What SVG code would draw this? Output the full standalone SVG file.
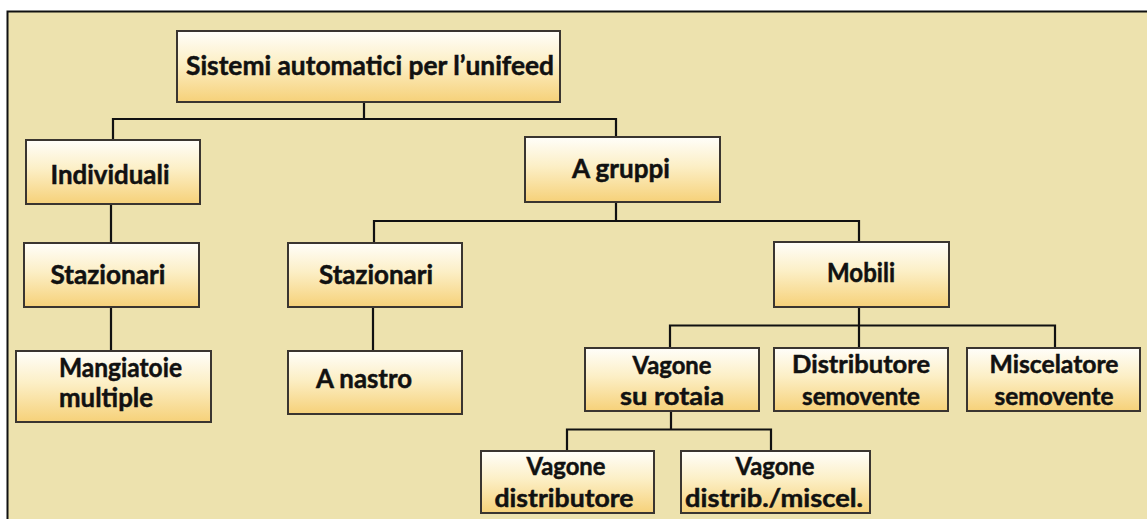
<svg xmlns="http://www.w3.org/2000/svg" width="1147" height="519" viewBox="0 0 1147 519">
<defs>
<linearGradient id="boxfill" x1="0" y1="0" x2="0" y2="1">
<stop offset="0" stop-color="#fffefa"/>
<stop offset="0.45" stop-color="#fcefc6"/>
<stop offset="1" stop-color="#f6d179"/>
</linearGradient>
</defs>
<style>
.box{fill:url(#boxfill);stroke:#3a3530;stroke-width:2}
.t{font-family:Lato,"Liberation Sans",sans-serif;font-weight:700;font-size:27px;fill:#111;stroke:#111;stroke-width:0.5;text-anchor:middle}
.s{font-size:25px}
.l{text-anchor:start}
.conn{fill:none;stroke:#111;stroke-width:2.2}
</style>
<rect x="0" y="0" width="1147" height="519" fill="#ffffff"/>
<rect x="7.5" y="11.5" width="1150" height="520" fill="#ede2ae" stroke="#111" stroke-width="2"/>
<g id="connectors" class="conn">
<path d="M364,102 V119 M113,140 V119 H616 V137"/>
<path d="M111,204 V243"/>
<path d="M111,307 V351"/>
<path d="M616,202 V221 M374,243 V221 H859 V242"/>
<path d="M373,307 V351"/>
<path d="M859,307 V348 M670,348 V325.5 H1055 V348"/>
<path d="M671,411 V429.5 M567,451 V429.5 H771 V451"/>
</g>
<g id="n-root">
<rect class="box" x="177" y="31" width="383" height="71"/>
<text class="t" x="370" y="75" textLength="368" lengthAdjust="spacingAndGlyphs">Sistemi automatici per l’unifeed</text>
</g>
<g id="n-individuali">
<rect class="box" x="26" y="140" width="174" height="64"/>
<text class="t" x="110" y="184" textLength="119" lengthAdjust="spacingAndGlyphs">Individuali</text>
</g>
<g id="n-agruppi">
<rect class="box" x="525" y="137" width="195" height="65"/>
<text class="t" x="621" y="178" textLength="98" lengthAdjust="spacingAndGlyphs">A gruppi</text>
</g>
<g id="n-stazionari-1">
<rect class="box" x="24" y="243" width="175" height="64"/>
<text class="t" x="108" y="284" textLength="115" lengthAdjust="spacingAndGlyphs">Stazionari</text>
</g>
<g id="n-mangiatoie">
<rect class="box" x="16" y="351" width="195" height="71"/>
<text class="t l" x="59" y="377" textLength="123" lengthAdjust="spacingAndGlyphs">Mangiatoie</text>
<text class="t l" x="59" y="407" textLength="94" lengthAdjust="spacingAndGlyphs">multiple</text>
</g>
<g id="n-stazionari-2">
<rect class="box" x="288" y="243" width="174" height="64"/>
<text class="t" x="376" y="284" textLength="114" lengthAdjust="spacingAndGlyphs">Stazionari</text>
</g>
<g id="n-anastro">
<rect class="box" x="288" y="351" width="174" height="63"/>
<text class="t l" x="316" y="388" textLength="96" lengthAdjust="spacingAndGlyphs">A nastro</text>
</g>
<g id="n-mobili">
<rect class="box" x="774" y="242" width="175" height="65"/>
<text class="t" x="861" y="282" textLength="68" lengthAdjust="spacingAndGlyphs">Mobili</text>
</g>
<g id="n-vagone-rotaia">
<rect class="box" x="585" y="348" width="174" height="63"/>
<text class="t s" x="672" y="374" textLength="79" lengthAdjust="spacingAndGlyphs">Vagone</text>
<text class="t s" x="672" y="405" textLength="104" lengthAdjust="spacingAndGlyphs">su rotaia</text>
</g>
<g id="n-distributore">
<rect class="box" x="774" y="348" width="174" height="63"/>
<text class="t s" x="861" y="373" textLength="138" lengthAdjust="spacingAndGlyphs">Distributore</text>
<text class="t s" x="861" y="405" textLength="118" lengthAdjust="spacingAndGlyphs">semovente</text>
</g>
<g id="n-miscelatore">
<rect class="box" x="967" y="348" width="173" height="63"/>
<text class="t s" x="1054" y="373" textLength="129" lengthAdjust="spacingAndGlyphs">Miscelatore</text>
<text class="t s" x="1054" y="405" textLength="119" lengthAdjust="spacingAndGlyphs">semovente</text>
</g>
<g id="n-vagone-distributore">
<rect class="box" x="481" y="451" width="173" height="62"/>
<text class="t s" x="566" y="475" textLength="79" lengthAdjust="spacingAndGlyphs">Vagone</text>
<text class="t s" x="564" y="507" textLength="139" lengthAdjust="spacingAndGlyphs">distributore</text>
</g>
<g id="n-vagone-distrib-miscel">
<rect class="box" x="681" y="451" width="189" height="62"/>
<text class="t s" x="775" y="475" textLength="79" lengthAdjust="spacingAndGlyphs">Vagone</text>
<text class="t s" x="774" y="507" textLength="178" lengthAdjust="spacingAndGlyphs">distrib./miscel.</text>
</g>
</svg>
